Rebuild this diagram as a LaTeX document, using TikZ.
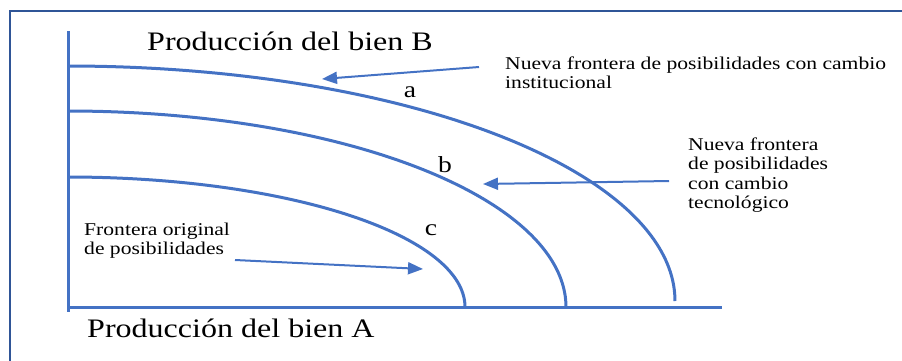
\documentclass[tikz,border=0pt]{standalone}
\usepackage{fontspec}
\setmainfont{Liberation Serif}[FakeStretch=1.2]
\usetikzlibrary{arrows.meta}
\newcommand\myfs[2]{\fontsize{#1}{#2}\selectfont}
\definecolor{curveblue}{HTML}{4472C4}
\definecolor{frameblue}{RGB}{47,85,151}
\tikzset{
  frontier/.style={draw=curveblue, line width=3pt},
  axisline/.style={draw=curveblue, line width=3pt},
  pointer/.style={draw=curveblue, line width=2pt, -{Triangle[length=15pt,width=12pt]}},
  bigtext/.style={inner sep=0pt, anchor=base west, font=\myfs{26.7}{30}},
  smalltext/.style={inner sep=0pt, anchor=north west, align=left, font=\myfs{18}{19.5}},
  letter/.style={inner sep=0pt, anchor=base, font=\myfs{23}{26}}
}
\begin{document}
\begin{tikzpicture}[x=1pt, y=-1pt]
\useasboundingbox (0,0) rectangle (902,360);
% frame
\draw[frameblue, line width=2pt] (10,362) -- (10,11) -- (904,11);
% axes
\draw[axisline] (68,31) -- (68,312);
\draw[axisline] (68,307) -- (722,307);
% frontiers
\draw[frontier] plot[domain=0:90, samples=90] ({68+607*sin(\x)},{301-235*cos(\x)});
\draw[frontier] plot[domain=0:90, samples=90] ({68+498*sin(\x)},{307-196*cos(\x)});
\draw[frontier] plot[domain=0:90, samples=90] ({68+397*sin(\x)},{307-130*cos(\x)});
% texts
\node[bigtext] (tb) at (147,50) {Producción del bien B};
\node[bigtext] (ta) at (87,337) {Producción del bien A};
\node[smalltext] (inst) at (505,56.5) {Nueva frontera de posibilidades con cambio\\institucional};
\node[smalltext] (tec) at (688,137.6) {Nueva frontera\\de posibilidades\\con cambio\\tecnológico};
\node[smalltext] (orig) at (84,222.6) {Frontera original\\de posibilidades};
\node[letter] (la) at (410,97) {a};
\node[letter] (lb) at (445,172) {b};
\node[letter] (lc) at (431,235) {c};
% arrows
\coordinate (s1) at (479,67);
\coordinate (e1) at (322,79);
\coordinate (s2) at (669,181);
\coordinate (e2) at (483,184);
\coordinate (s3) at (235,260);
\coordinate (e3) at (423,269);
\draw[pointer] (s1) -- (e1);
\draw[pointer] (s2) -- (e2);
\draw[pointer] (s3) -- (e3);
\end{tikzpicture}
\end{document}
